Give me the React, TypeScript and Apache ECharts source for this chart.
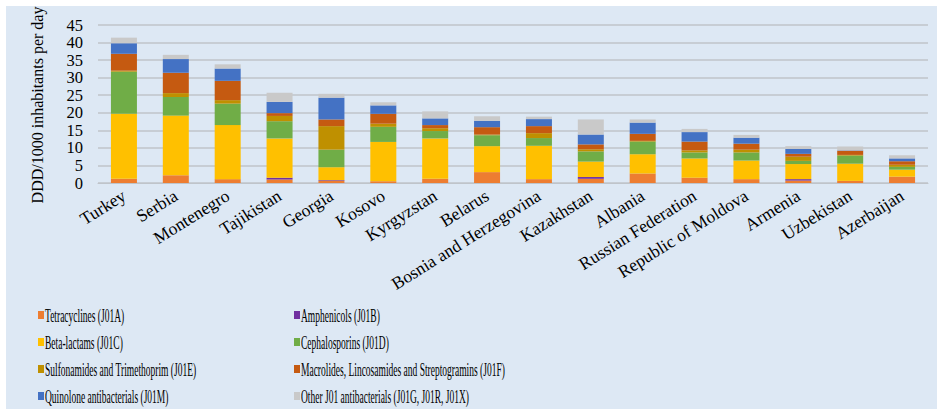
import React, { useEffect, useRef } from "react";
import * as echarts from "echarts";

const categories = [
  "Turkey", "Serbia", "Montenegro", "Tajikistan", "Georgia", "Kosovo", "Kyrgyzstan", "Belarus",
  "Bosnia and Herzegovina", "Kazakhstan", "Albania", "Russian Federation", "Republic of Moldova",
  "Armenia", "Uzbekistan", "Azerbaijan",
];

const tetracyclines = [1.2, 2.2, 1.1, 1.0, 0.6, 0.5, 1.2, 3.1, 1.1, 1.2, 2.7, 1.5, 1.1, 0.7, 0.6, 1.8];
const amphenicols = [0, 0, 0, 0.5, 0.2, 0, 0, 0, 0, 0.5, 0, 0, 0, 0.4, 0, 0];
const betaLactams = [18.5, 17.0, 15.4, 11.2, 3.7, 11.2, 11.5, 7.4, 9.5, 4.4, 5.5, 5.5, 5.3, 4.3, 4.9, 2.0];
const cephalosporins = [12.0, 5.3, 6.1, 4.9, 5.0, 4.3, 2.1, 3.1, 2.2, 2.9, 3.6, 1.7, 2.3, 0.9, 2.3, 0.8];
const sulfonamides = [0.3, 1.1, 1.0, 1.5, 6.7, 0.9, 0.8, 0.2, 1.4, 0.6, 0.2, 0.6, 0.8, 1.2, 0.2, 0.6];
const macrolides = [4.8, 5.8, 5.5, 0.8, 1.9, 2.8, 0.9, 2.1, 2.0, 1.4, 2.0, 2.5, 1.7, 0.8, 1.2, 1.0];
const quinolones = [3.0, 3.9, 3.5, 3.2, 6.2, 2.4, 1.9, 1.8, 2.0, 2.8, 3.2, 2.7, 1.7, 1.4, 0.1, 0.8];
const others = [1.6, 1.2, 1.2, 2.6, 1.1, 0.9, 2.0, 1.3, 0.7, 4.3, 0.9, 0.9, 0.8, 0.8, 1.1, 0.9];

const seriesNames = [
  "Tetracyclines (J01A)",
  "Amphenicols (J01B)",
  "Beta-lactams (J01C)",
  "Cephalosporins (J01D)",
  "Sulfonamides and Trimethoprim (J01E)",
  "Macrolides, Lincosamides and Streptogramins (J01F)",
  "Quinolone antibacterials (J01M)",
  "Other J01 antibacterials (J01G, J01R, J01X)",
];
const seriesData = [tetracyclines, amphenicols, betaLactams, cephalosporins, sulfonamides, macrolides, quinolones, others];
const seriesColors = ["#ED7D31", "#7030A0", "#FFC000", "#70AD47", "#BF9000", "#C55A11", "#4472C4", "#C9C9C9"];

const yTitle = "DDD/1000 inhabitants per day";
const FONT = "'Liberation Serif', 'Times New Roman', serif";

export default function App() {
  const ref = useRef<HTMLDivElement>(null);

  useEffect(() => {
    document.body.style.margin = "0";
    if (!ref.current) return;
    const chart = echarts.init(ref.current, undefined, { renderer: "svg" });

    const graphics: any[] = [];
    seriesNames.forEach((name, i) => {
      const col = i % 2;
      const row = Math.floor(i / 2);
      const x = col === 0 ? 38 : 294;
      const y = 315 + row * 27;
      graphics.push({
        type: "rect",
        shape: { x, y: y - 4, width: 6, height: 8 },
        style: { fill: seriesColors[i] },
        silent: true,
      });
      graphics.push({
        type: "text",
        x: x + 7,
        y: y + 1,
        scaleX: 0.5,
        style: {
          text: name,
          fill: "#000",
          font: `19px ${FONT}`,
          verticalAlign: "middle",
          align: "left",
        },
        silent: true,
      });
    });
    graphics.push({
      type: "text",
      x: 37,
      y: 105,
      rotation: Math.PI / 2,
      style: {
        text: yTitle,
        fill: "#000",
        font: `16px ${FONT}`,
        align: "center",
        verticalAlign: "middle",
      },
      silent: true,
    });

    chart.setOption({
      animation: false,
      backgroundColor: "transparent",
      textStyle: { fontFamily: FONT },
      grid: { left: 98, right: 13, top: 25, bottom: 229, containLabel: false },
      xAxis: {
        type: "category",
        data: categories,
        axisLine: { show: true, lineStyle: { color: "#BFC4CA", width: 1 } },
        axisTick: { show: false },
        axisLabel: {
          rotate: 32,
          interval: 0,
          color: "#000",
          fontSize: 17.5,
          fontFamily: FONT,
          margin: 11,
        },
      },
      yAxis: {
        type: "value",
        min: 0,
        max: 45,
        interval: 5,
        axisLine: { show: false },
        axisTick: { show: false },
        axisLabel: { color: "#000", fontSize: 16.5, fontFamily: FONT, margin: 15 },
        splitLine: { lineStyle: { color: "#BFC4CA", width: 1.5 } },
      },
      series: seriesNames.map((name, i) => ({
        name,
        type: "bar",
        stack: "total",
        barWidth: 26,
        data: seriesData[i],
        itemStyle: { color: seriesColors[i] },
      })),
      graphic: graphics,
    });

    return () => chart.dispose();
  }, []);

  return (
    <div style={{ position: "relative", width: 941, height: 412, background: "#fff", overflow: "hidden" }}>
      <div
        style={{
          position: "absolute",
          left: 6,
          top: 6,
          width: 931,
          height: 403,
          background: "#DDE8F4",
        }}
      />
      <div ref={ref} style={{ position: "absolute", left: 0, top: 0, width: 941, height: 412 }} />
    </div>
  );
}
